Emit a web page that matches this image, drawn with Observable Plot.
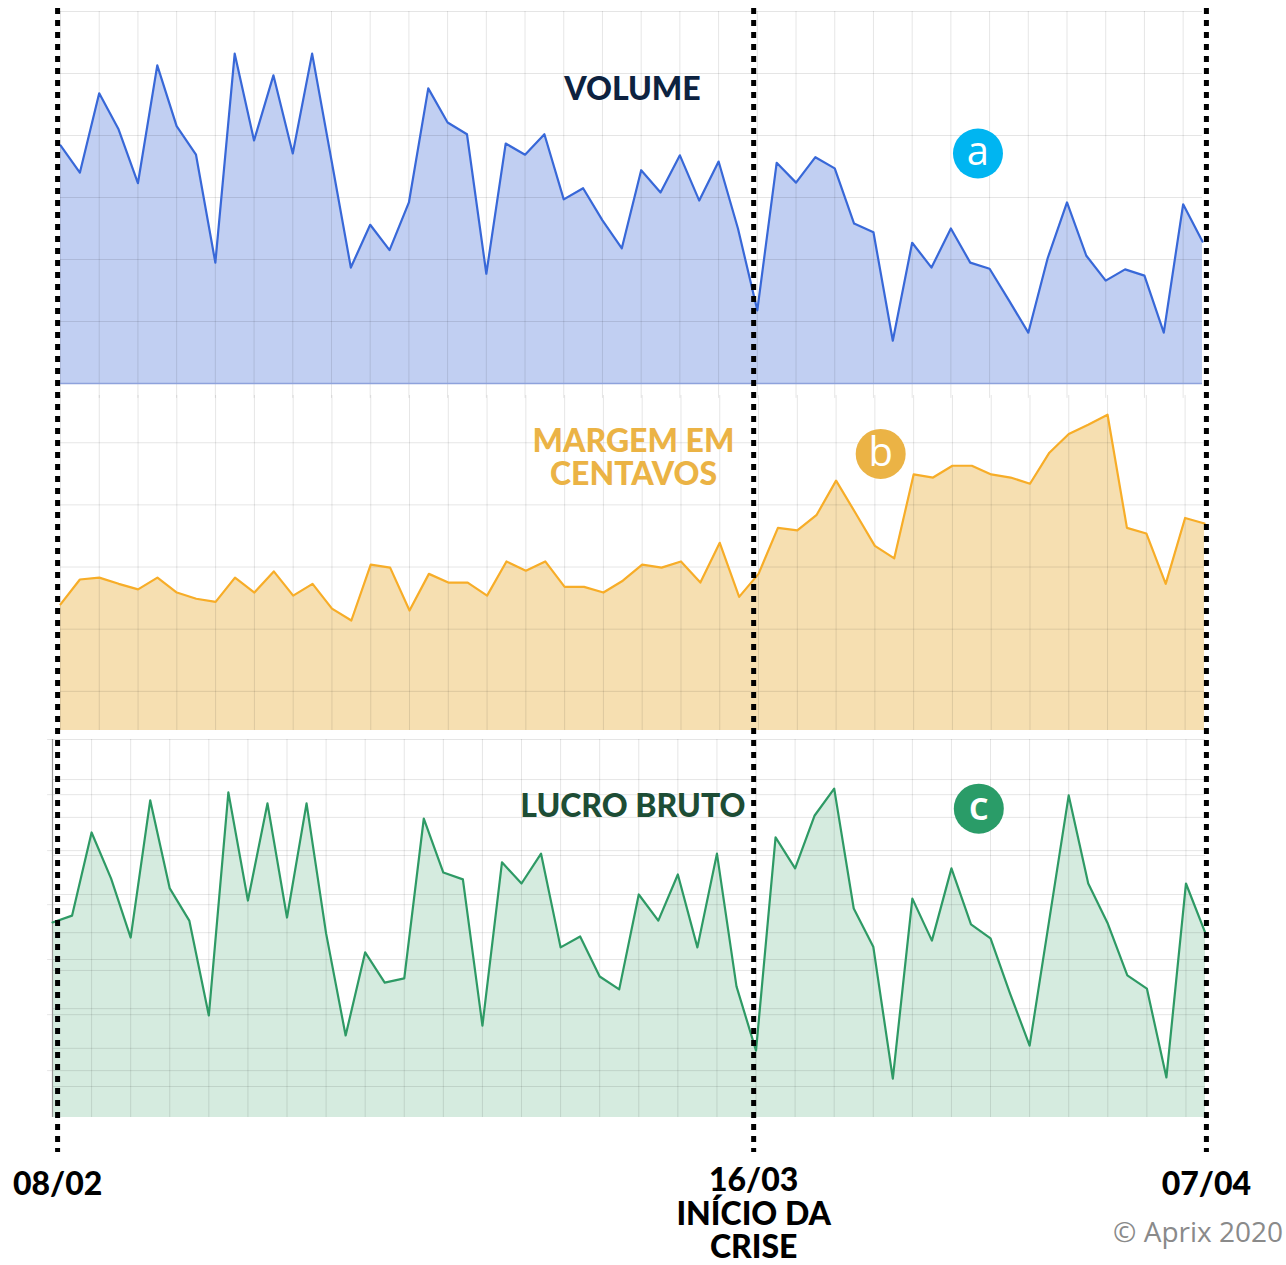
<!DOCTYPE html>
<html><head><meta charset="utf-8">
<script src="https://cdn.jsdelivr.net/npm/d3@7"></script>
<script src="https://cdn.jsdelivr.net/npm/@observablehq/plot@0.6"></script>
<style>
body{margin:0;background:#fff;}
#chart{position:relative;width:1286px;height:1265px;overflow:hidden;background:#fff;}
#chart svg{position:absolute;left:0;}
#credit{position:absolute;right:3px;top:1212px;font:28px "Open Sans",sans-serif;color:#8a8a8a;white-space:nowrap;}
</style></head><body><div id="chart"><div id="credit">© Aprix 2020</div></div>
<script>
// ---- data (one value per day, 08/02 → 07/04) ----
const volume = [38.4,34.0,46.8,41.0,32.3,51.3,41.5,36.9,19.5,53.2,
  39.2,49.7,37.1,53.2,36.0,18.7,25.6,21.5,29.2,47.6,
  42.1,40.2,17.7,38.7,36.9,40.2,29.7,31.5,26.3,21.8,
  34.4,30.8,36.8,29.5,35.8,25.0,11.8,35.6,32.4,36.5,
  34.7,25.8,24.4,6.9,22.7,18.7,25.0,19.5,18.5,13.4,
  8.2,20.2,29.2,20.6,16.6,18.4,17.4,8.2,28.9,22.9];
const margem = [24.0,28.0,28.3,27.3,26.4,28.3,25.9,24.9,24.4,28.3,
  25.9,29.3,25.4,27.3,23.3,21.4,30.4,29.9,23.0,28.9,
  27.5,27.5,25.4,30.9,29.4,30.9,26.8,26.8,25.9,27.8,
  30.4,29.9,30.9,27.5,33.9,25.2,28.9,36.3,35.9,38.4,
  43.9,38.7,33.4,31.4,44.9,44.4,46.3,46.3,44.9,44.4,
  43.4,48.4,51.4,52.9,54.5,36.3,35.4,27.3,37.9,37.0];
const lucro = [51.6,53.4,75.4,63.2,47.6,83.9,60.6,52.1,27.0,86.0,
  57.4,83.1,52.9,83.1,48.7,21.7,43.7,35.7,36.8,79.1,
  64.8,63.0,24.3,67.5,61.9,69.8,45.0,47.9,37.3,33.9,
  59.0,52.1,64.3,45.0,69.8,34.7,17.7,74.1,65.9,79.9,
  87.0,55.3,45.2,10.3,57.9,46.8,65.9,51.1,47.4,32.8,
  19.0,52.1,85.2,61.9,51.3,37.6,34.1,10.6,61.9,48.7];

// tick / grid values
const volumeTicks = [10,20,30,40,50,60];
const margemTicks = [10,20,30,40,50];
const lucroTicksA = [100,85.4,70.6,56.3,41.8,27.2,12.4];
const lucroTicksB = [89.4,79.4,69.3,59.0,48.9,38.9,28.8,18.3,8.2];
const dayTicks = d3.range(0,59,2);
const dayTicks3 = d3.range(2,59,2);

// key dates
const markerLabels = ["08/02","16/03\nINÍCIO DA\nCRISE","07/04"];
const markerPos = [-0.15, 35.78, 59.15];
const markers = markerLabels.map((label,i)=>({label, pos: markerPos[i]}));

const X = (d,i)=>i;
const grid = {stroke:"#000", strokeOpacity:0.1};
const FONT = "'Lato Black', Lato, 'DejaVu Sans', sans-serif";
const style = {background:"transparent", overflow:"visible"};
const chart = document.getElementById("chart");
function place(svg, top){ svg.style.top = top+"px"; chart.appendChild(svg); }

// ---- panel a : VOLUME ----
place(Plot.plot({
  width:1286, height:400, marginTop:11, marginBottom:17, marginLeft:60, marginRight:84, style,
  x:{domain:[0,59], axis:null}, y:{domain:[0,60], axis:null},
  marks:[
    Plot.areaY(volume, {x:X, y:d=>d, fill:"#c1cff2"}),
    Plot.ruleY(volumeTicks, grid),
    Plot.ruleX(dayTicks, {...grid, y1:60, y2:-2.4}),
    Plot.ruleY([0], {stroke:"#8ea2dc", strokeWidth:1.5}),
    Plot.lineY(volume, {x:X, y:d=>d, stroke:"#3868d8", strokeWidth:2.2}),
    Plot.text([{t:"VOLUME", x:29.55, y:47.3}], {x:"x", y:"y", text:"t", fontSize:32, fontWeight:900, fontFamily:FONT, fill:"#0d2240"}),
    Plot.dot([{t:"a", x:47.4, y:37.1}], {x:"x", y:"y", r:25, fill:"#00b5f1"}),
    Plot.text([{t:"a", x:47.4, y:37.1}], {x:"x", y:"y", text:"t", dy:-1, fontSize:40, fontFamily:"'Open Sans', sans-serif", fill:"#fff"})
  ]
}), 0);

// ---- panel b : MARGEM EM CENTAVOS ----
place(Plot.plot({
  width:1286, height:360, marginTop:12, marginBottom:13, marginLeft:60, marginRight:82, style,
  x:{domain:[0,59], axis:null}, y:{domain:[3.7,57.6], axis:null},
  marks:[
    Plot.areaY(margem, {x:X, y:d=>d, fill:"#f6dfb1", clip:true}),
    Plot.ruleY(margemTicks, grid),
    Plot.ruleX(dayTicks, grid),
    Plot.lineY(margem, {x:X, y:d=>d, stroke:"#f7ad28", strokeWidth:2.2}),
    Plot.text([{t:"MARGEM EM\nCENTAVOS", x:29.55, y:47.6}], {x:"x", y:"y", text:"t", lineHeight:1.06, fontSize:32, fontWeight:900, fontFamily:FONT, fill:"#ebb345"}),
    Plot.dot([{t:"b", x:42.3, y:48.2}], {x:"x", y:"y", r:25, fill:"#ebb345"}),
    Plot.text([{t:"b", x:42.3, y:48.2}], {x:"x", y:"y", text:"t", dy:-1, fontSize:40, fontFamily:"'Open Sans', sans-serif", fill:"#fff"})
  ]
}), 383);

// ---- panel c : LUCRO BRUTO ----
place(Plot.plot({
  width:1286, height:400, marginTop:9, marginBottom:13, marginLeft:52, marginRight:81, style,
  x:{domain:[0,59], axis:null}, y:{domain:[0,100], axis:null},
  marks:[
    Plot.areaY(lucro, {x:X, y:d=>d, fill:"#d5ebdf"}),
    Plot.ruleY(lucroTicksB, grid),
    Plot.ruleY(lucroTicksA, {...grid, x1:-0.25, x2:59}),
    Plot.ruleX(dayTicks3, grid),
    Plot.ruleX([0], {stroke:"#9a9a9a", strokeWidth:1.2}),
    Plot.lineY(lucro, {x:X, y:d=>d, stroke:"#2e9a65", strokeWidth:2.2}),
    Plot.text([{t:"LUCRO BRUTO", x:29.7, y:82.3}], {x:"x", y:"y", text:"t", fontSize:32, fontWeight:900, fontFamily:FONT, fill:"#1d4d35"}),
    Plot.dot([{t:"c", x:47.4, y:81.7}], {x:"x", y:"y", r:25, fill:"#2a9c68"}),
    Plot.text([{t:"c", x:47.4, y:81.7}], {x:"x", y:"y", text:"t", dy:-1, fontSize:40, fontWeight:600, fontFamily:"'Open Sans', sans-serif", fill:"#fff"})
  ]
}), 730);

// ---- overlay : key dates ----
place(Plot.plot({
  width:1286, height:1265, marginTop:8, marginBottom:113, marginLeft:60, marginRight:83, style,
  x:{domain:[0,59], axis:null}, y:{axis:null},
  marks:[
    Plot.ruleX(markers, {x:"pos", stroke:"#000", strokeWidth:5, strokeDasharray:"6,6"}),
    Plot.text(markers.filter((d,i)=>i===1), {x:"pos", text:"label", frameAnchor:"bottom", lineAnchor:"top", dy:14, lineHeight:1.06, fontSize:32, fontWeight:900, fontFamily:FONT, fill:"#000"}),
    Plot.text(markers.filter((d,i)=>i!==1), {x:"pos", text:"label", frameAnchor:"bottom", lineAnchor:"top", dy:20, fontSize:32, fontWeight:900, fontFamily:FONT, fill:"#000"})
  ]
}), 0);
</script></body></html>
